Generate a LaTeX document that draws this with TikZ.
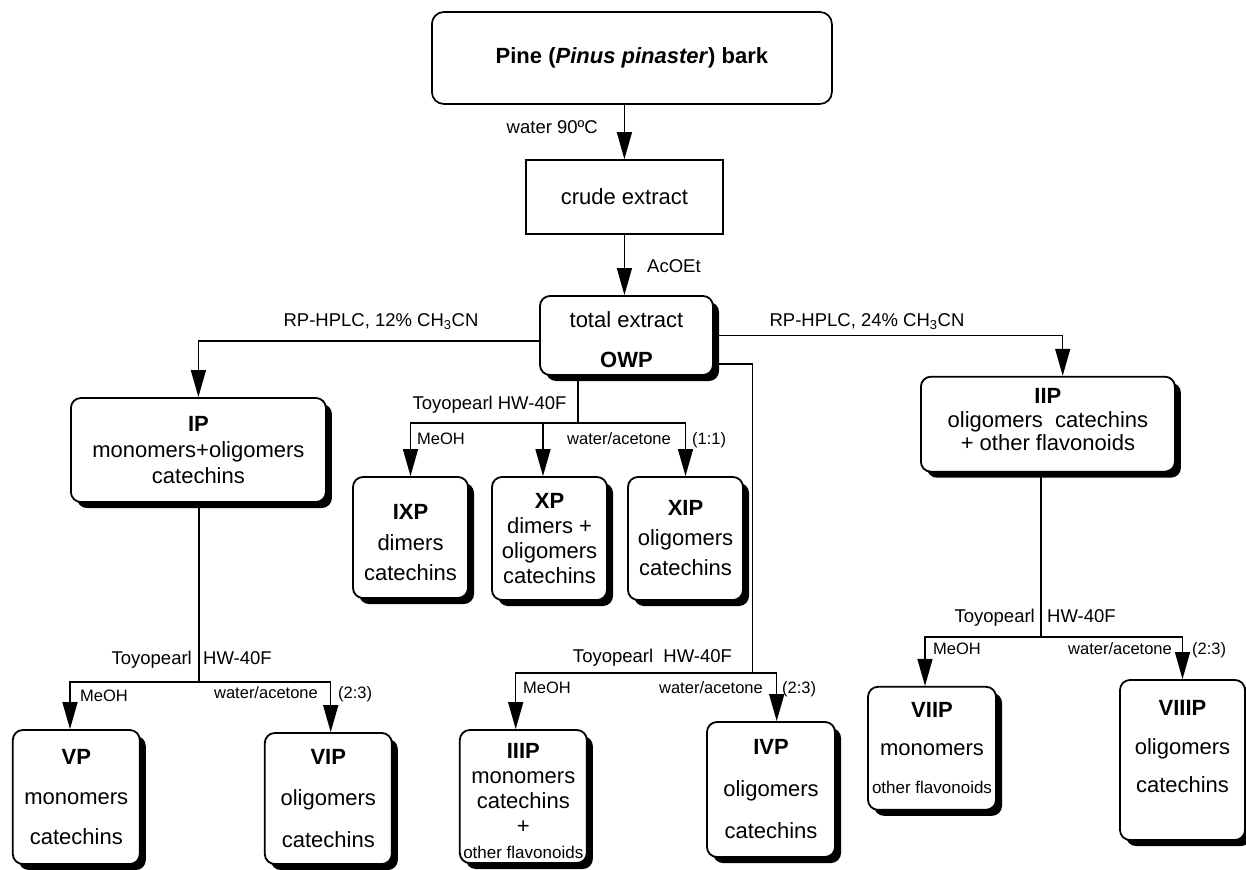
\documentclass[tikz,border=0pt]{standalone}
\usepackage{fontspec}
\setmainfont{Liberation Sans}
\usetikzlibrary{arrows.meta,shadows,calc}
\tikzset{
  base/.style={font=\fontsize{22}{26}\selectfont, align=center, inner sep=0pt, fill=white},
  plainbox/.style={base, draw, line width=1.7pt},
  sbox/.style={base, draw, line width=1.8pt, rounded corners=10pt,
    drop shadow={shadow xshift=6pt, shadow yshift=-6pt, opacity=1, fill=black}},
  lbl/.style={font=\fontsize{18.5}{22}\selectfont, inner sep=0pt},
  slbl/.style={font=\fontsize{16.5}{20}\selectfont, inner sep=0pt},
  conn/.style={line width=1.4pt},
  arr/.style={conn, -{Triangle[length=27pt,width=15pt]}},
  sm/.style={font=\fontsize{17}{20}\selectfont}
}
\begin{document}
\begin{tikzpicture}[x=1pt,y=-1pt]
\useasboundingbox (0,0) rectangle (1246,869);

% boxes
\node[plainbox, rounded corners=12pt, minimum width=400pt, minimum height=92pt] (pine) at (631.9,58)
  {\textbf{Pine (\textit{Pinus pinaster}) bark}};
\node[plainbox, minimum width=197pt, minimum height=74pt] (crude) at (624.4,197) {crude extract};
\node[sbox, minimum width=173pt, minimum height=79pt, font=\fontsize{22}{40}\selectfont] (total) at (626.5,335.5)
  {\mbox{}\\[-16pt]total extract\\\textbf{OWP}};
\node[sbox, minimum width=255pt, minimum height=104pt, font=\fontsize{22}{26}\selectfont] (ip) at (198.4,450)
  {\textbf{IP}\\monomers+oligomers\\catechins};
\node[sbox, minimum width=254pt, minimum height=95pt, font=\fontsize{22}{23.5}\selectfont] (iip) at (1047.9,424.2)
  {\textbf{IIP}\\oligomers\ \ catechins\\+ other flavonoids\\[-14pt]\mbox{}};
\node[sbox, minimum width=115pt, minimum height=121pt, font=\fontsize{22}{30.5}\selectfont] (ixp) at (410.5,537.5)
  {\mbox{}\\[-4.5pt]\textbf{IXP}\\dimers\\catechins};
\node[sbox, minimum width=115pt, minimum height=123pt, font=\fontsize{22}{25}\selectfont] (xp) at (549.5,538.5)
  {\textbf{XP}\\dimers +\\oligomers\\catechins};
\node[sbox, minimum width=115pt, minimum height=123pt, font=\fontsize{22}{30}\selectfont] (xip) at (685.5,538.5)
  {\textbf{XIP}\\oligomers\\catechins};
\node[sbox, minimum width=127pt, minimum height=134pt, font=\fontsize{22}{40}\selectfont] (vp) at (76.3,797)
  {\textbf{VP}\\monomers\\catechins};
\node[sbox, minimum width=127pt, minimum height=131pt, font=\fontsize{22}{41.5}\selectfont] (vip) at (328.3,798.5)
  {\textbf{VIP}\\oligomers\\catechins};
\node[sbox, minimum width=127pt, minimum height=133pt, font=\fontsize{22}{25}\selectfont] (iiip) at (523.3,796.5)
  {\mbox{}\\[-0.2pt]\textbf{IIIP}\\monomers\\catechins\\+\\{\fontsize{17}{20}\selectfont other flavonoids}};
\node[sbox, minimum width=128pt, minimum height=135pt, font=\fontsize{22}{42}\selectfont] (ivp) at (771,789.5)
  {\textbf{IVP}\\oligomers\\catechins};
\node[sbox, minimum width=128pt, minimum height=123pt, font=\fontsize{22}{38}\selectfont] (viip) at (932,748.3)
  {\textbf{VIIP}\\monomers\\{\fontsize{17}{20}\selectfont other flavonoids}};
\node[sbox, minimum width=125pt, minimum height=160pt, font=\fontsize{22}{38.5}\selectfont] (viiip) at (1182.5,760)
  {\textbf{VIIIP}\\oligomers\\catechins\\[-12pt]\mbox{}};

% junctions
\coordinate (j1) at (578,423);
\coordinate (j2) at (752.7,673);
\coordinate (j3) at (199,682);
\coordinate (j4) at (1041,637);

% connectors
\draw[arr] (crude.north |- pine.south) -- (crude.north);
\draw[arr] (crude.south) -- (crude.south |- total.north);
\draw[arr] ([yshift=-5.5pt]total.west) -| (ip.north);
\draw[arr] (total.east) -| ([xshift=14.8pt]iip.north);
\draw[conn] ([yshift=-28.5pt]total.east) -| (j2);
\draw[arr] (j2) -| ([xshift=-7.6pt]iiip.north);
\draw[arr] (j2) -| ([xshift=5.7pt]ivp.north);
\draw[conn] (j1 |- total.south) -- (j1);
\draw[arr] (j1) -| (ixp.north);
\draw[arr] (j1) -| ([xshift=-6.5pt]xp.north);
\draw[arr] (j1) -| (xip.north);
\draw[conn] (j3 |- ip.south) -- (j3);
\draw[arr] (j3) -| ([xshift=-6.3pt]vp.north);
\draw[arr] (j3) -| ([xshift=2.4pt]vip.north);
\draw[conn] (j4 |- iip.south) -- (j4);
\draw[arr] (j4) -| ([xshift=-7pt]viip.north);
\draw[arr] (j4) -| (viiip.north);

% labels
\node[lbl, anchor=mid east] (l1) at (598,131) {water 90ºC};
\node[lbl, anchor=mid west] (l2) at (647,270) {AcOEt};
\node[lbl, anchor=mid] (l3) at (381,324) {RP-HPLC, 12\% CH\textsubscript{3}CN};
\node[lbl, anchor=mid] (l4) at (867,324) {RP-HPLC, 24\% CH\textsubscript{3}CN};

\node[lbl, anchor=mid] (t1) at (489.5,407) {Toyopearl HW-40F};
\node[slbl, anchor=mid west] (m1) at (417,442) {MeOH};
\node[slbl, anchor=mid west] (w1) at (567,442) {water/acetone};
\node[slbl, anchor=mid west] (r1) at (692,442) {(1:1)};

\node[lbl, anchor=mid east] (t2a) at (192,662) {Toyopearl};
\node[lbl, anchor=mid west] (t2b) at (203,662) {HW-40F};
\node[slbl, anchor=mid west] (m2) at (80,699) {MeOH};
\node[slbl, anchor=mid east] (w2) at (318,696) {water/acetone};
\node[slbl, anchor=mid west] (r2) at (338,696) {(2:3)};

\node[lbl, anchor=mid] (t3) at (652.5,660) {Toyopearl\ \ HW-40F};
\node[slbl, anchor=mid west] (m3) at (523,691) {MeOH};
\node[slbl, anchor=mid east] (w3) at (763,691) {water/acetone};
\node[slbl, anchor=mid west] (r3) at (782,691) {(2:3)};

\node[lbl, anchor=mid east] (t4a) at (1035,620) {Toyopearl};
\node[lbl, anchor=mid west] (t4b) at (1047,620) {HW-40F};
\node[slbl, anchor=mid west] (m4) at (933,652) {MeOH};
\node[slbl, anchor=mid east] (w4) at (1172,652) {water/acetone};
\node[slbl, anchor=mid west] (r4) at (1192,652) {(2:3)};
\end{tikzpicture}
\end{document}
